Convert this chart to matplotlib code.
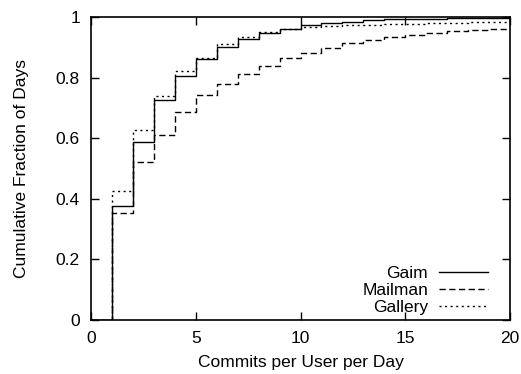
import numpy as np
import matplotlib
matplotlib.use("Agg")
import matplotlib.pyplot as plt
from matplotlib.ticker import FuncFormatter

plt.rcParams["font.family"] = ["Liberation Sans", "DejaVu Sans"]

# commits per user per day (0..20) and cumulative fraction of days
commits = np.arange(0, 21)

gaim = [0.0, 0.375, 0.587, 0.725, 0.806, 0.862, 0.902, 0.926, 0.948, 0.960,
        0.974, 0.979, 0.985, 0.989, 0.992, 0.994, 0.995, 0.996, 0.997, 0.998, 0.999]
mailman = [0.0, 0.353, 0.523, 0.611, 0.685, 0.742, 0.780, 0.813, 0.837, 0.864,
           0.882, 0.898, 0.913, 0.925, 0.934, 0.941, 0.947, 0.953, 0.957, 0.962, 0.966]
gallery = [0.0, 0.425, 0.626, 0.738, 0.822, 0.864, 0.912, 0.935, 0.950, 0.960,
           0.968, 0.971, 0.973, 0.975, 0.976, 0.978, 0.979, 0.980, 0.982, 0.983, 0.985]

FS = 12.5

fig = plt.figure(figsize=(5.21, 3.74), dpi=100)
ax = fig.add_axes([91 / 521, 54 / 374, 419 / 521, 303 / 374])

ax.step(commits, gaim, where="post", color="black", lw=1.0, label="Gaim")
ax.step(commits, mailman, where="post", color="black", lw=1.0,
        dashes=(4.5, 2.5), label="Mailman")
ax.step(commits, gallery, where="post", color="black", lw=1.0,
        dashes=(1.5, 2.5), label="Gallery")

ax.set_xlim(0, 20)
ax.set_ylim(0, 1)
ax.set_xticks([0, 5, 10, 15, 20])
ax.set_yticks([0, 0.2, 0.4, 0.6, 0.8, 1.0])
ax.yaxis.set_major_formatter(FuncFormatter(lambda v, p: f"{v:g}"))
ax.tick_params(direction="in", length=5.5, width=1, top=True, right=True,
               labelsize=FS, pad=8)
for spine in ax.spines.values():
    spine.set_linewidth(1.2)

ax.set_xlabel("Commits per User per Day", fontsize=FS, labelpad=6.5)
ax.set_ylabel("Cumulative Fraction of Days", fontsize=FS, labelpad=19.5)

ax.legend(loc="lower right", bbox_to_anchor=(0.9475, 0.015), frameon=False,
          fontsize=FS, markerfirst=False, handlelength=2.82,
          handletextpad=0.63, labelspacing=0.12, borderaxespad=0,
          borderpad=0, alignment="right")
for t in ax.get_legend().get_texts():
    t.set_ha("right")

fig.savefig("out.png", dpi=100)
